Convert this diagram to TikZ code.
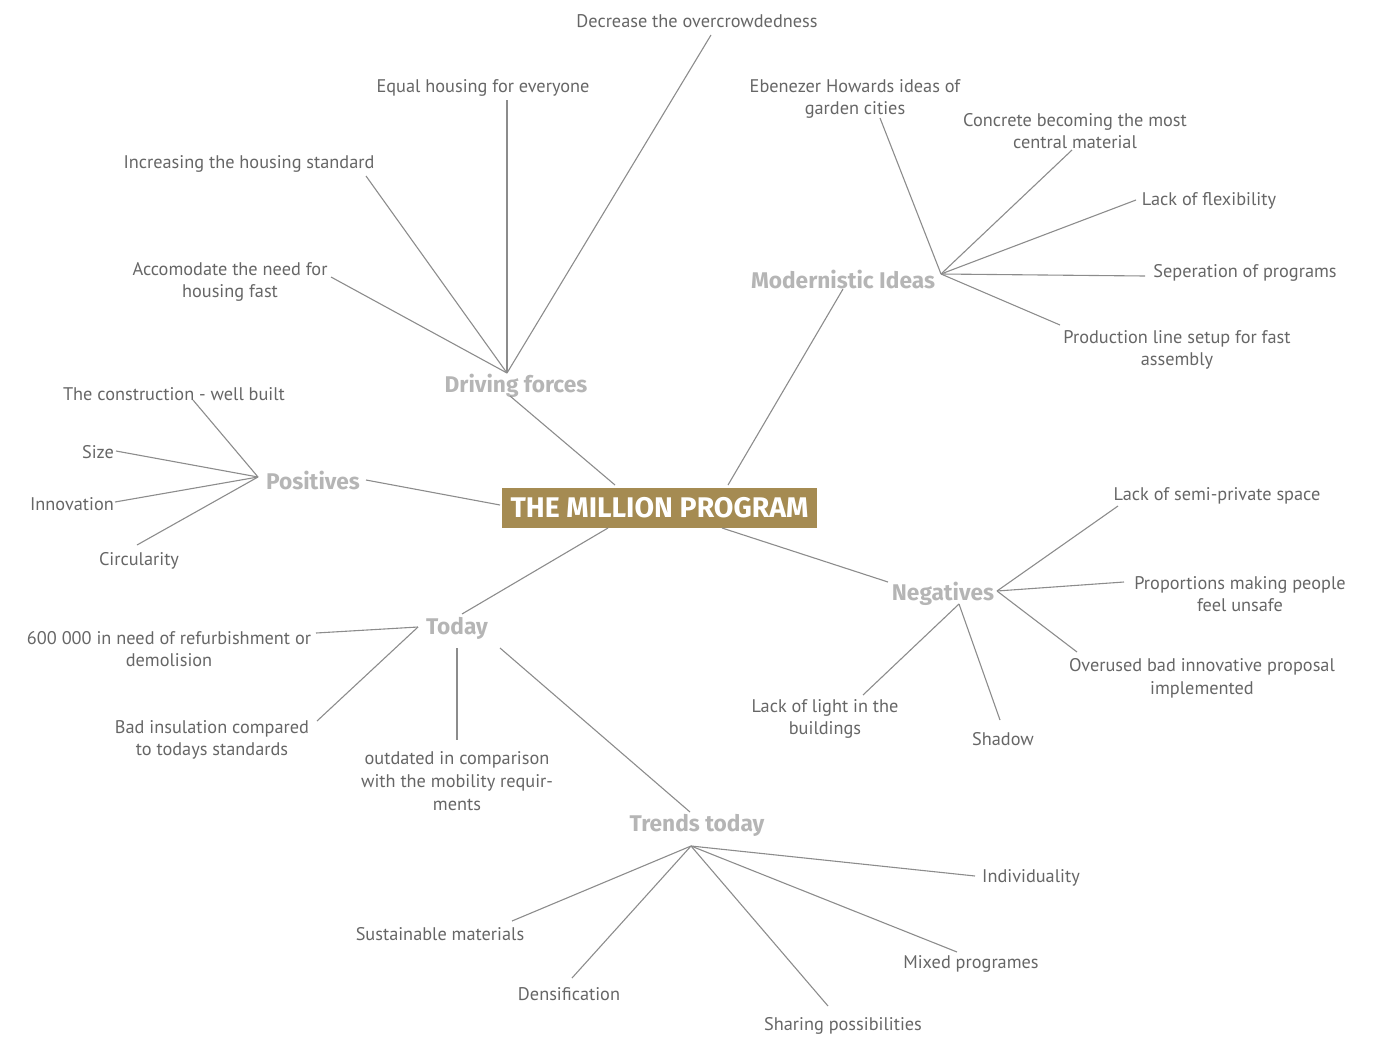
\documentclass[tikz,border=0pt]{standalone}
\usepackage{fontspec}
\setmainfont{PT Sans}
\newfontfamily\headfont{Fira Sans}
\definecolor{txtgray}{HTML}{666666}
\definecolor{headgray}{HTML}{B5B5B5}
\definecolor{linegray}{HTML}{8C8C8C}
\definecolor{gold}{HTML}{A58B52}
\tikzset{
  leaf/.style={text=txtgray, font=\fontsize{18.3}{22.7}\selectfont, align=center, inner sep=0pt},
  head/.style={text=headgray, font=\headfont\bfseries\fontsize{22.7}{26}\selectfont, inner sep=0pt},
  title/.style={fill=gold, text=white, font=\headfont\bfseries\fontsize{28.4}{32}\selectfont, minimum width=315pt, minimum height=40pt, inner sep=0pt},
  conn/.style={draw=linegray, line width=1.1pt}
}
\begin{document}
\begin{tikzpicture}[x=1pt,y=-1pt]
\useasboundingbox (0,0) rectangle (1384,1036);
% centre
\node[title] (main) at (659.5,508) {THE MILLION PROGRAM};
% headings
\node[head] (df) at (516,386) {Driving forces};
\node[head] (mi) at (843,279) {Modernistic Ideas};
\node[head] (pos) at (313,480) {Positives};
\node[head] (neg) at (943,594) {Negatives};
\node[head] (tod) at (457,628) {Today};
\node[head] (tr) at (697,825) {Trends today};
% leaves
\node[leaf] (l1) at (697,21) {Decrease the overcrowdedness};
\node[leaf] (l2) at (483,88) {Equal housing for everyone};
\node[leaf] (l3) at (249,164) {Increasing the housing standard};
\node[leaf] (l4) at (230,282) {Accomodate the need for\\housing fast};
\node[leaf] (m1) at (855,99) {Ebenezer Howards ideas of\\garden cities};
\node[leaf] (m2) at (1075,131) {Concrete becoming the most\\central material};
\node[leaf] (m3) at (1209,201) {Lack of flexibility};
\node[leaf] (m4) at (1245,273) {Seperation of programs};
\node[leaf] (m5) at (1177,350) {Production line setup for fast\\assembly};
\node[leaf] (p1) at (174,394) {The construction - well built};
\node[leaf] (p2) at (98,452) {Size};
\node[leaf] (p3) at (72,504) {Innovation};
\node[leaf] (p4) at (139,561) {Circularity};
\node[leaf] (n1) at (1217,496) {Lack of semi-private space};
\node[leaf] (n2) at (1240,594) {Proportions making people\\feel unsafe};
\node[leaf] (n3) at (1202,678) {Overused bad innovative proposal\\implemented};
\node[leaf] (n4) at (825,719) {Lack of light in the\\buildings};
\node[leaf] (n5) at (1003,739) {Shadow};
\node[leaf] (t1) at (169,649) {600 000 in need of refurbishment or\\demolision};
\node[leaf] (t2) at (212,740) {Bad insulation compared\\to todays standards};
\node[leaf] (t3) at (457,781) {outdated in comparison\\with the mobility requir-\\ments};
\node[leaf] (r1) at (1031,878) {Individuality};
\node[leaf] (r2) at (971,964) {Mixed programes};
\node[leaf] (r3) at (843,1026) {Sharing possibilities};
\node[leaf] (r4) at (569,994) {Densification};
\node[leaf] (r5) at (440,934) {Sustainable materials};
% coordinates
\coordinate (c-df) at (615,485);
\coordinate (c-mi) at (728,485);
\coordinate (c-pos) at (500,505);
\coordinate (c-tod) at (608,528);
\coordinate (c-neg) at (722,528);
\coordinate (df-in) at (510,396);
\coordinate (mi-in) at (843,289);
\coordinate (pos-in) at (366,480);
\coordinate (tod-in) at (462,614);
\coordinate (neg-in) at (888,582);
\coordinate (hdf) at (507,373);
\coordinate (hmi) at (941,274);
\coordinate (hpos) at (258,477);
\coordinate (hneg) at (997,591);
\coordinate (hneg2) at (959,604);
\coordinate (htod) at (418,627);
\coordinate (htod2) at (457,648);
\coordinate (htod3) at (500,648);
\coordinate (htr) at (691,846);
\coordinate (tr-in) at (690,812);
\coordinate (e-l1) at (711,35);
\coordinate (e-l2) at (507,100);
\coordinate (e-l3) at (366,176);
\coordinate (e-l4) at (331,277);
\coordinate (e-m1) at (880,118);
\coordinate (e-m2) at (1072,150);
\coordinate (e-m3) at (1136,200);
\coordinate (e-m4) at (1145,276);
\coordinate (e-m5) at (1060,325);
\coordinate (e-p1) at (193,400);
\coordinate (e-p2) at (116,451);
\coordinate (e-p3) at (115,502);
\coordinate (e-p4) at (137,545);
\coordinate (e-n1) at (1118,506);
\coordinate (e-n2) at (1124,582);
\coordinate (e-n3) at (1077,652);
\coordinate (e-n4) at (863,695);
\coordinate (e-n5) at (1000,720);
\coordinate (e-t1) at (316,633);
\coordinate (e-t2) at (317,721);
\coordinate (e-t3) at (457,740);
\coordinate (e-r1) at (975,876);
\coordinate (e-r2) at (957,952);
\coordinate (e-r3) at (828,1006);
\coordinate (e-r4) at (572,978);
\coordinate (e-r5) at (512,921);
% connectors
\draw[conn] (c-df) -- (df-in);
\draw[conn] (c-mi) -- (mi-in);
\draw[conn] (c-pos) -- (pos-in);
\draw[conn] (c-tod) -- (tod-in);
\draw[conn] (c-neg) -- (neg-in);
\foreach \e in {l1,l2,l3,l4} \draw[conn] (hdf) -- (e-\e);
\foreach \e in {m1,m2,m3,m4,m5} \draw[conn] (hmi) -- (e-\e);
\foreach \e in {p1,p2,p3,p4} \draw[conn] (hpos) -- (e-\e);
\foreach \e in {n1,n2,n3} \draw[conn] (hneg) -- (e-\e);
\foreach \e in {n4,n5} \draw[conn] (hneg2) -- (e-\e);
\draw[conn] (htod) -- (e-t1);
\draw[conn] (htod) -- (e-t2);
\draw[conn] (htod2) -- (e-t3);
\draw[conn] (htod3) -- (tr-in);
\foreach \e in {r1,r2,r3,r4,r5} \draw[conn] (htr) -- (e-\e);
\end{tikzpicture}
\end{document}
